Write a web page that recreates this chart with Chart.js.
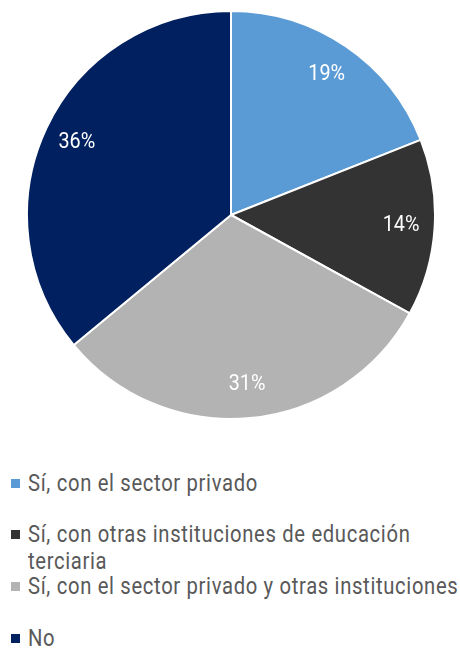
<!DOCTYPE html>
<html>
<head>
<meta charset="utf-8">
<script src="https://cdn.jsdelivr.net/npm/chart.js@4.4.1/dist/chart.umd.min.js"></script>
<style>
  html, body { margin: 0; padding: 0; background: #fff; width: 460px; height: 649px; overflow: hidden; }
  #wrap { position: absolute; left: 26px; top: 10px; width: 410px; height: 410px; }
  .item { position: absolute; left: 0; width: 460px; }
  .mk { position: absolute; left: 11px; width: 9px; height: 9px; top: 9px; }
  .tx { position: absolute; left: 28px; top: 0; width: 500px; font-family: Roboto, sans-serif; font-size: 23px; letter-spacing: 0.75px; line-height: 27px; color: #595959; transform: scaleX(0.88); transform-origin: 0 0; white-space: normal; }
</style>
</head>
<body>
<div id="wrap"><canvas id="c"></canvas></div>
<div id="legend"></div>
<script>
const categories = [
  "Sí, con el sector privado",
  "Sí, con otras instituciones de educación terciaria",
  "Sí, con el sector privado y otras instituciones",
  "No"
];
const values = [19, 14, 31, 36];
const colors = ["#5B9BD5", "#333333", "#B3B3B3", "#002060"];

const labelPlugin = {
  id: 'pctLabels',
  afterDatasetsDraw(chart) {
    const ctx = chart.ctx;
    const meta = chart.getDatasetMeta(0);
    meta.data.forEach((arc, i) => {
      const p = arc.getProps(['x', 'y', 'startAngle', 'endAngle', 'outerRadius'], true);
      const mid = (p.startAngle + p.endAngle) / 2;
      const r = p.outerRadius * 0.835;
      const lx = p.x + Math.cos(mid) * r;
      const ly = p.y + Math.sin(mid) * r;
      ctx.save();
      ctx.translate(lx, ly);
      ctx.scale(0.9, 1);
      ctx.fillStyle = '#ffffff';
      ctx.font = '22px Roboto';
      ctx.textAlign = 'center';
      ctx.textBaseline = 'middle';
      ctx.fillText(values[i] + '%', 0, 0);
      ctx.restore();
    });
  }
};

new Chart(document.getElementById('c'), {
  type: 'pie',
  data: {
    labels: categories,
    datasets: [{
      data: values,
      backgroundColor: colors,
      borderColor: '#ffffff',
      borderWidth: 2
    }]
  },
  options: {
    responsive: true,
    maintainAspectRatio: false,
    animation: false,
    layout: { padding: 0 },
    plugins: { legend: { display: false }, tooltip: { enabled: false } }
  },
  plugins: [labelPlugin]
});

const legendTops = [470, 521, 573, 625];
const legend = document.getElementById('legend');
categories.forEach((cat, i) => {
  const d = document.createElement('div');
  d.className = 'item';
  d.style.top = legendTops[i] + 'px';
  d.innerHTML = '<div class="mk" style="background:' + colors[i] + '"></div><div class="tx"></div>';
  d.querySelector('.tx').textContent = cat;
  legend.appendChild(d);
});
</script>
</body>
</html>
